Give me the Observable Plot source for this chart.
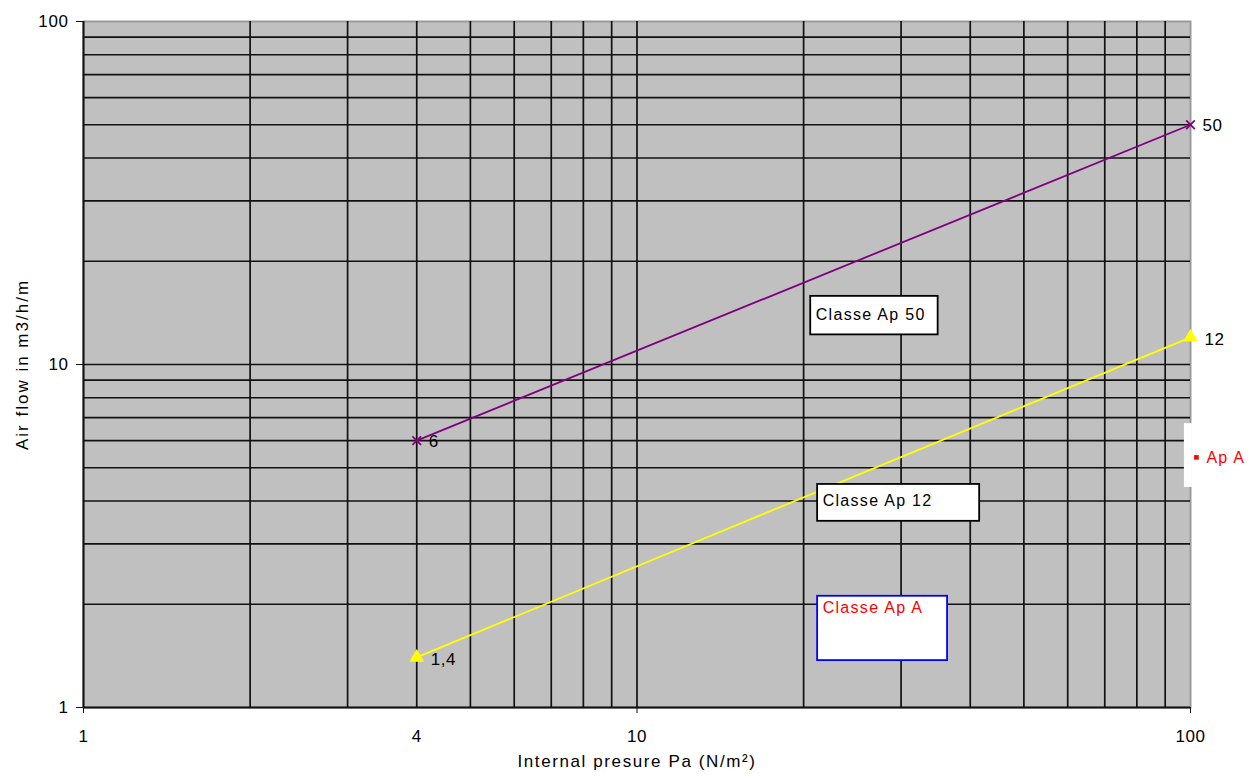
<!DOCTYPE html>
<html>
<head>
<meta charset="utf-8">
<script src="https://cdn.jsdelivr.net/npm/d3@7"></script>
<script src="https://cdn.jsdelivr.net/npm/@observablehq/plot@0.6"></script>
<style>
  html, body { margin: 0; padding: 0; background: #fff; }
  #chart { width: 1252px; height: 776px; }
  svg { font-family: "Liberation Sans", Arial, sans-serif; }
</style>
</head>
<body>
<div id="chart"></div>
<script>
// ---- data ----
const pressure = [4, 100];               // Pa
const flowAp50 = [6, 50];                // m3/h/m
const flowAp12 = [1.4, 12];
const pointLabelsAp50 = ["6", "50"];
const pointLabelsAp12 = ["1,4", "12"];
const gridValues = [1, 2, 3, 4, 5, 6, 7, 8, 9, 10, 20, 30, 40, 50, 60, 70, 80, 90];
const xTickLabels = [1, 4, 10, 100];
const xTickMarks = [1, 10, 100];
const yTickLabels = [1, 10, 100];
const xTitle = "Internal presure Pa (N/m²)";
const yTitle = "Air flow in m3/h/m";
// annotation boxes (data coordinates)
const boxNames = ["Classe Ap 50", "Classe Ap 12", "Classe Ap A"];
const boxX1 = [20.6, 21.2, 21.2];
const boxX2 = [35.0, 41.6, 36.4];
const boxY1 = [12.2, 3.49, 1.37];
const boxY2 = [15.8, 4.47, 2.11];
const boxTextY = [14.0, 4.0, 1.95];
const boxTextColor = ["#000", "#000", "#ff0000"];
const boxStroke = ["#000", "#000", "#0000ff"];
// legend entry
const legendName = ["Ap A"];
const legendX = [102.5];
const legendY = [5.36];

const line50 = pressure.map((p, i) => ({x: p, y: flowAp50[i], label: pointLabelsAp50[i]}));
const line12 = pressure.map((p, i) => ({x: p, y: flowAp12[i], label: pointLabelsAp12[i]}));
const boxes = boxNames.map((n, i) => ({name: n, x1: boxX1[i], x2: boxX2[i], y1: boxY1[i], y2: boxY2[i], ty: boxTextY[i], color: boxTextColor[i], stroke: boxStroke[i]}));
const legend = legendName.map((n, i) => ({name: n, x: legendX[i], y: legendY[i]}));

const chart = Plot.plot({
  width: 1252,
  height: 776,
  marginLeft: 83,
  marginRight: 62,
  marginTop: 21,
  marginBottom: 69,
  style: {fontFamily: '"Liberation Sans", Arial, sans-serif', fontSize: "17px", color: "#000", background: "#fff"},
  x: {type: "log", domain: [1, 100], range: [83, 1190]},
  y: {type: "log", domain: [1, 100]},
  marks: [
    Plot.frame({fill: "#c0c0c0", stroke: "#9a9a9a", strokeWidth: 2}),
    Plot.ruleX(gridValues.filter(v => v > 1), {stroke: "#111", strokeWidth: 1.7}),
    Plot.ruleY(gridValues.filter(v => v > 1), {stroke: "#111", strokeWidth: 1.7}),
    Plot.ruleX([1], {stroke: "#111", strokeWidth: 2}),
    Plot.ruleY([1], {stroke: "#111", strokeWidth: 2}),
    Plot.axisX(xTickLabels, {tickSize: 0, tickPadding: 22, fontSize: 17, tickFormat: d => String(d), label: null}),
    Plot.axisX(xTickMarks, {tickSize: 6, text: null, stroke: "#111", label: null}),
    Plot.axisY(yTickLabels, {tickSize: 7, tickPadding: 8, fontSize: 17, tickFormat: d => String(d), stroke: "#111", label: null}),
    Plot.text([xTitle], {frameAnchor: "bottom", textAnchor: "middle", dy: 59, fontSize: 17, fill: "#000"}),
    Plot.text([yTitle], {frameAnchor: "left", textAnchor: "middle", dx: -61, rotate: -90, fontSize: 17, fill: "#000"}),
    // series
    Plot.line(line50, {x: "x", y: "y", stroke: "#800080", strokeWidth: 1.8}),
    Plot.dot(line50, {x: "x", y: "y", symbol: "times", r: 4, stroke: "#800080", strokeWidth: 1.8}),
    Plot.text(line50, {x: "x", y: "y", text: "label", textAnchor: "start", dx: 12, dy: 1, fontSize: 17, fill: "#000"}),
    Plot.line(line12, {x: "x", y: "y", stroke: "#ffff00", strokeWidth: 1.8}),
    Plot.dot(line12, {x: "x", y: "y", symbol: "triangle", r: 4.5, fill: "#ffff00", stroke: "#ffff00"}),
    Plot.text(line12, {x: "x", y: "y", text: "label", textAnchor: "start", dx: 14, dy: 2, fontSize: 17, fill: "#000"}),
    // annotation boxes
    Plot.rect(boxes, {x1: "x1", x2: "x2", y1: "y1", y2: "y2", fill: "#fff", stroke: "stroke", strokeWidth: 1.8}),
    Plot.text(boxes, {x: "x1", y: "ty", text: "name", textAnchor: "start", dx: 5, fill: "color", fontSize: 16}),
    // legend entry
    Plot.rect(legend, {x1: 97.5, x2: 100.8, y1: 4.38, y2: 6.73, fill: "#fff", clip: false}),
    Plot.dot(legend, {x: "x", y: "y", symbol: "square", r: 2.6, fill: "#ff0000", clip: false}),
    Plot.text(legend, {x: "x", y: "y", text: "name", textAnchor: "start", dx: 10, fill: "#ff0000", fontSize: 16, clip: false})
  ]
});

// letter spacing to mimic the wide bitmap font of the original
d3.select(chart).selectAll("text").each(function() {
  const t = this.textContent;
  let ls = 0.6;
  if (t === xTitle) ls = 1.6;
  else if (t === yTitle) ls = 2;
  else if (boxNames.includes(t)) ls = 1.3;
  else if (legendName.includes(t)) ls = 1.2;
  this.setAttribute("letter-spacing", ls);
});
document.getElementById("chart").appendChild(chart);
</script>
</body>
</html>
